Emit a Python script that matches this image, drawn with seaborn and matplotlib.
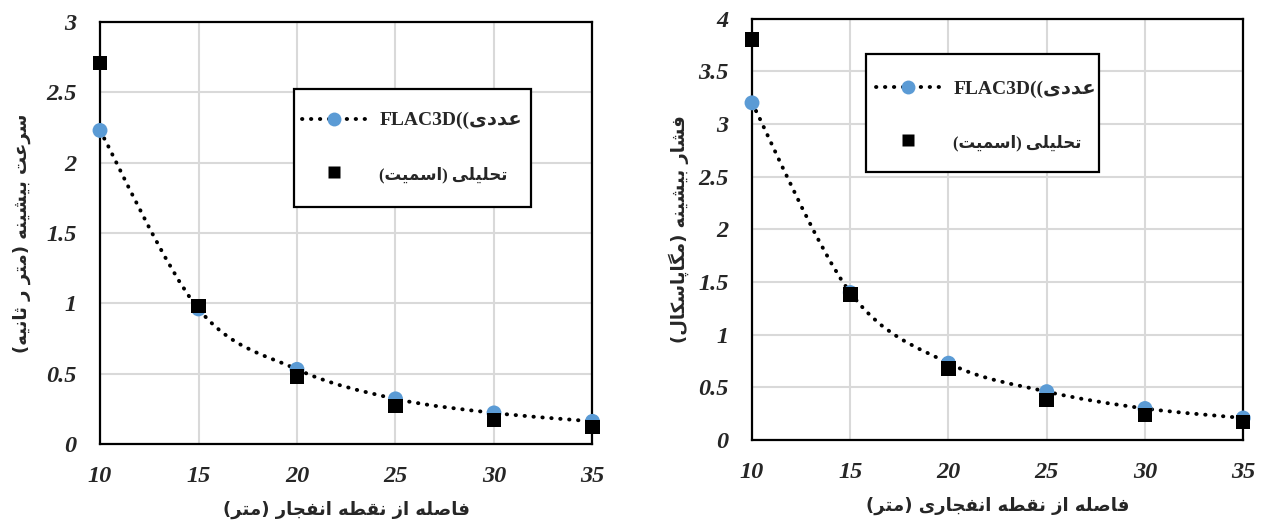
import numpy as np
import pandas as pd
import matplotlib
matplotlib.use("Agg")
import matplotlib.pyplot as plt
from matplotlib.path import Path
from matplotlib.patches import PathPatch, Rectangle
from matplotlib.lines import Line2D
import seaborn as sns

# distances (m)
distance = [10, 15, 20, 25, 30, 35]

# left panel: peak particle velocity (m/s)
vel_flac = [2.23, 0.96, 0.53, 0.32, 0.22, 0.16]
vel_smith = [2.71, 0.98, 0.48, 0.27, 0.17, 0.12]

# right panel: peak pressure (MPa)
pres_flac = [3.20, 1.40, 0.73, 0.46, 0.30, 0.21]
pres_smith = [3.80, 1.38, 0.68, 0.38, 0.24, 0.17]

x_ticks = [10, 15, 20, 25, 30, 35]
vel_ticks = [0, 0.5, 1, 1.5, 2, 2.5, 3]
pres_ticks = [0, 0.5, 1, 1.5, 2, 2.5, 3, 3.5, 4]

label_num = "عددی"
label_num_latin = "FLAC3D(("
label_ana = "تحلیلی (اسمیت)"
vel_ylabel = "سرعت بیشینه (متر ر ثانیه)"
vel_xlabel = "فاصله از نقطه انفجار (متر)"
pres_ylabel = "فشار بیشینه (مگاپاسکال)"
pres_xlabel = "فاصله از نقطه انفجاری (متر)"

# --- tiny arabic/persian shaper (matplotlib has no text shaping) ---
FORMS = {
    'ا': ('\uFE8D', '\uFE8E', None, None),
    'ب': ('\uFE8F', '\uFE90', '\uFE91', '\uFE92'),
    'پ': ('\uFB56', '\uFB57', '\uFB58', '\uFB59'),
    'ت': ('\uFE95', '\uFE96', '\uFE97', '\uFE98'),
    'ث': ('\uFE99', '\uFE9A', '\uFE9B', '\uFE9C'),
    'ج': ('\uFE9D', '\uFE9E', '\uFE9F', '\uFEA0'),
    'ح': ('\uFEA1', '\uFEA2', '\uFEA3', '\uFEA4'),
    'د': ('\uFEA9', '\uFEAA', None, None),
    'ر': ('\uFEAD', '\uFEAE', None, None),
    'ز': ('\uFEAF', '\uFEB0', None, None),
    'س': ('\uFEB1', '\uFEB2', '\uFEB3', '\uFEB4'),
    'ش': ('\uFEB5', '\uFEB6', '\uFEB7', '\uFEB8'),
    'ص': ('\uFEB9', '\uFEBA', '\uFEBB', '\uFEBC'),
    'ط': ('\uFEC1', '\uFEC2', '\uFEC3', '\uFEC4'),
    'ع': ('\uFEC9', '\uFECA', '\uFECB', '\uFECC'),
    'ف': ('\uFED1', '\uFED2', '\uFED3', '\uFED4'),
    'ق': ('\uFED5', '\uFED6', '\uFED7', '\uFED8'),
    'ک': ('\uFB8E', '\uFB8F', '\uFB90', '\uFB91'),
    'گ': ('\uFB92', '\uFB93', '\uFB94', '\uFB95'),
    'ل': ('\uFEDD', '\uFEDE', '\uFEDF', '\uFEE0'),
    'م': ('\uFEE1', '\uFEE2', '\uFEE3', '\uFEE4'),
    'ن': ('\uFEE5', '\uFEE6', '\uFEE7', '\uFEE8'),
    'ه': ('\uFEE9', '\uFEEA', '\uFEEB', '\uFEEC'),
    'ی': ('\uFBFC', '\uFBFD', '\uFBFE', '\uFBFF'),
}


def shape(text):
    out = []
    for i, ch in enumerate(text):
        if ch not in FORMS:
            out.append(ch)
            continue
        iso, fin, ini, med = FORMS[ch]
        prev = text[i - 1] if i > 0 else ''
        nxt = text[i + 1] if i + 1 < len(text) else ''
        jp = prev in FORMS and FORMS[prev][2] is not None
        jn = nxt in FORMS and ini is not None
        if jp and jn:
            out.append(med)
        elif jp:
            out.append(fin)
        elif jn:
            out.append(ini)
        else:
            out.append(iso)
    vis = ''.join(out)[::-1]
    return vis.translate(str.maketrans('()', ')('))


def smooth_path(ax, xs, ys, **kw):
    # excel-like smoothed line: cubic bezier through the points
    pts = np.column_stack([xs, ys]).astype(float)
    verts = [pts[0]]
    codes = [Path.MOVETO]
    n = len(pts)
    for i in range(n - 1):
        p0 = pts[i - 1] if i > 0 else pts[i]
        p1, p2 = pts[i], pts[i + 1]
        p3 = pts[i + 2] if i + 2 < n else pts[i + 1]
        c1 = p1 + (p2 - p0) / 6.0
        c2 = p2 - (p3 - p1) / 6.0
        verts += [c1, c2, p2]
        codes += [Path.CURVE4] * 3
    patch = PathPatch(Path(verts, codes), fill=False, transform=ax.transData, **kw)
    ax.add_patch(patch)


sns.set_style("white")
arabic_font = ['DejaVu Sans']
num_font = dict(family='Liberation Serif', weight='bold', style='italic', size=17.5)

fig = plt.figure(figsize=(12.66, 5.29), dpi=100)
ax1 = fig.add_axes([0.079, 0.161, 0.389, 0.797])
ax2 = fig.add_axes([0.594, 0.168, 0.388, 0.797])

blue = '#5B9BD5'
dots = (0, (0.1, 2.2))


def panel(ax, yflac, ysmith, yticks, ylabel, xlabel, ylab_x, frame, leg_anchor):
    df = pd.DataFrame({'d': distance, 'flac': yflac, 'smith': ysmith})
    ax.set_xlim(10, 35)
    ax.set_ylim(yticks[0], yticks[-1])
    ax.set_xticks(x_ticks)
    ax.set_yticks(yticks)
    ax.grid(True, color='#d9d9d9', lw=1.5)
    ax.set_axisbelow(True)
    smooth_path(ax, df['d'], df['flac'], zorder=2, color='black', lw=2.8,
                linestyle=dots, capstyle='round')
    sns.scatterplot(data=df, x='d', y='flac', ax=ax, color=blue, s=115,
                    marker='o', edgecolor='none', zorder=3, clip_on=False)
    sns.scatterplot(data=df, x='d', y='smith', ax=ax, color='black', s=110,
                    marker='s', edgecolor='none', zorder=4, clip_on=False)
    for sp in ax.spines.values():
        sp.set_color('black')
        sp.set_linewidth(1.6)
    ax.tick_params(length=0)
    ax.tick_params(axis='x', pad=16)
    ax.tick_params(axis='y', pad=17)
    ax.set_xticklabels([str(t) for t in x_ticks], fontdict=num_font)
    ax.set_yticklabels([f"{t:g}" for t in yticks], fontdict=num_font)
    ax.set_xlabel(shape(xlabel), family=arabic_font, weight='bold', size=13, labelpad=10)
    ax.set_ylabel(shape(ylabel), family=arabic_font, weight='bold', size=13)
    ax.yaxis.set_label_coords(ylab_x, 0.5)

    # legend frame drawn by hand (excel box: tall vertical padding, tight sides)
    fx0, fy0, fx1, fy1 = frame
    ax.add_patch(Rectangle((fx0, fy0), fx1 - fx0, fy1 - fy0, transform=ax.transAxes,
                           facecolor='white', edgecolor='black', lw=1.6, zorder=5))
    h1 = Line2D([], [], color='black', lw=2.8, linestyle=dots,
                dash_capstyle='round', marker='o', markersize=10,
                markerfacecolor=blue, markeredgecolor='none')
    h2 = Line2D([], [], color='black', lw=0, marker='s', markersize=8,
                markerfacecolor='black', markeredgecolor='none')
    lab1 = label_num_latin + shape(label_num)
    lab2 = shape(label_ana)
    leg = ax.legend([h1, h2], [lab1, lab2], loc='center left', bbox_to_anchor=leg_anchor,
                    frameon=False, handlelength=3.3, handletextpad=0.68,
                    labelspacing=1.85, borderpad=0, borderaxespad=0,
                    prop=dict(family=['Liberation Serif', 'DejaVu Sans'],
                              weight='bold', size=14))
    leg.set_zorder(6)
    leg.get_texts()[1].set_fontsize(12)


panel(ax1, vel_flac, vel_smith, vel_ticks, vel_ylabel, vel_xlabel, -0.14,
      (0.394, 0.562, 0.876, 0.841), (0.41, 0.703))
panel(ax2, pres_flac, pres_smith, pres_ticks, pres_ylabel, pres_xlabel, -0.128,
      (0.233, 0.637, 0.707, 0.915), (0.252, 0.77))

fig.savefig('out.png', dpi=100)
